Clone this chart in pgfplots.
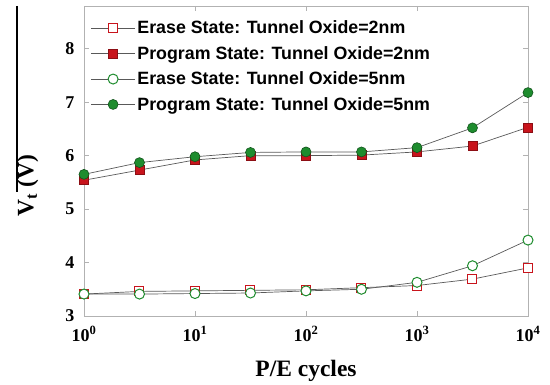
\documentclass[border=0pt]{standalone}
\usepackage{pgfplots}
\pgfplotsset{compat=1.18}
\usepackage{fontspec}
\setmainfont{Liberation Serif}
\newfontfamily\legendfont{Liberation Sans}
\definecolor{myred}{RGB}{200,20,28}
\definecolor{mygreen}{RGB}{30,140,46}
\begin{document}
\begin{tikzpicture}
\begin{axis}[
  name=ax,
  scale only axis, width=444pt, height=310pt,
  xmode=log, xmin=1, xmax=10000, ymin=3, ymax=8.8,
  xtick={1,10,100,1000,10000},
  xticklabels={10\textsuperscript{0},10\textsuperscript{1},10\textsuperscript{2},10\textsuperscript{3},10\textsuperscript{4}},
  xminorticks=false,
  ytick={3,4,5,6,7,8}, yticklabels={3,4,5,6,7,8},
  tick align=inside, major tick length=5pt,
  axis line style={gray!60, line width=0.8pt},
  tick style={gray!60, line width=0.8pt},
  every tick label/.append style={font=\bfseries\fontsize{18}{18}\selectfont},
  xticklabel style={yshift=-7pt},
  yticklabel style={xshift=-6pt},
  xlabel={P/E cycles}, ylabel={V\textsubscript{t} (V)},
  label style={font=\bfseries\fontsize{23.5}{23.5}\selectfont},
  xlabel style={at={(axis description cs:0.5,-0.194)}, anchor=base},
  ylabel style={at={(axis description cs:-0.127,0.42)}, anchor=center},
  legend style={draw=none, fill=none, at={(axis description cs:0.008,0.965)}, anchor=north west,
    font=\legendfont\bfseries\fontsize{17.8}{17.8}\selectfont, row sep=7pt},
  legend cell align=left,
  legend image code/.code={\draw[mark repeat=2,mark phase=2] plot coordinates {(0pt,0pt)(22pt,0pt)(44pt,0pt)};},
  every axis plot/.append style={line width=0.7pt, color=black!65},
]
\addplot[mark=square*, mark size=4.5pt, mark options={draw=myred, fill=white, line width=1pt}] coordinates {
(1,3.41) (3.162,3.46) (10,3.47) (31.62,3.48) (100,3.49) (316.2,3.53) (1000,3.57) (3162,3.69) (10000,3.90)};
\addlegendentry{Erase State: Tunnel Oxide=2nm}
\addplot[mark=square*, mark size=4.5pt, mark options={draw=myred!70!black, fill=myred, line width=0.6pt}] coordinates {
(1,5.54) (3.162,5.73) (10,5.92) (31.62,6.00) (100,6.00) (316.2,6.01) (1000,6.07) (3162,6.18) (10000,6.53)};
\addlegendentry{Program State: Tunnel Oxide=2nm}
\addplot[mark=*, mark size=5pt, mark options={draw=mygreen, fill=white, line width=1pt}] coordinates {
(1,3.41) (3.162,3.41) (10,3.42) (31.62,3.43) (100,3.47) (316.2,3.50) (1000,3.63) (3162,3.94) (10000,4.42)};
\addlegendentry{Erase State: Tunnel Oxide=5nm}
\addplot[mark=*, mark size=5pt, mark options={draw=mygreen!60!black, fill=mygreen, line width=0.6pt}] coordinates {
(1,5.65) (3.162,5.87) (10,5.98) (31.62,6.06) (100,6.07) (316.2,6.07) (1000,6.15) (3162,6.52) (10000,7.18)};
\addlegendentry{Program State: Tunnel Oxide=5nm}
\end{axis}
\draw[black, line width=1.2pt] ([xshift=-67pt]ax.north west) -- ([xshift=-67pt,yshift=-186pt]ax.north west);
\path ([xshift=-84pt,yshift=6pt]ax.north west) rectangle ([xshift=22pt,yshift=-68pt]ax.south east);
\end{tikzpicture}
\end{document}
